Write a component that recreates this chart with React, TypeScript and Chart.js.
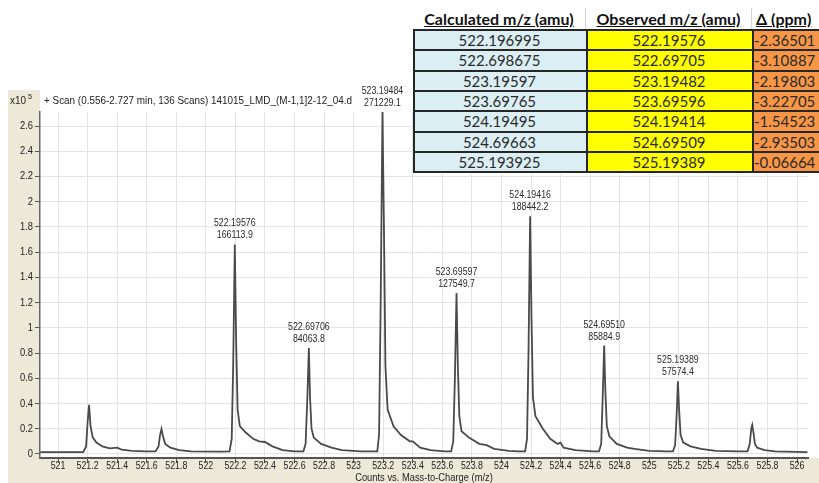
import React, { useEffect, useRef } from 'react';
import { Chart, registerables } from 'chart.js';
Chart.register(...registerables);

// Spectrum trace: m/z and intensity (x10^5 counts)
const traceMz = [
  520.88, 521.17, 521.19, 521.2, 521.21, 521.22, 521.235, 521.26, 521.3, 521.35, 521.4, 521.43, 521.5, 521.6,
  521.66, 521.68, 521.69, 521.7, 521.71, 521.725, 521.76, 521.82, 521.9, 522.1,
  522.16, 522.175, 522.185, 522.196, 522.205, 522.215, 522.23, 522.27, 522.32, 522.36, 522.4, 522.45, 522.52, 522.6,
  522.66, 522.675, 522.687, 522.697, 522.705, 522.715, 522.73, 522.78, 522.85, 522.92, 523.05,
  523.16, 523.172, 523.183, 523.195, 523.205, 523.215, 523.23, 523.27, 523.32, 523.38, 523.4, 523.45, 523.52, 523.62,
  523.66, 523.674, 523.685, 523.696, 523.705, 523.715, 523.73, 523.78, 523.85, 523.9, 523.95, 524.05, 524.12,
  524.16, 524.173, 524.183, 524.194, 524.203, 524.213, 524.23, 524.28, 524.33, 524.38, 524.4, 524.42, 524.5, 524.62,
  524.66, 524.675, 524.685, 524.695, 524.703, 524.713, 524.73, 524.78, 524.85, 524.9, 525.0, 525.12,
  525.16, 525.175, 525.185, 525.194, 525.202, 525.212, 525.23, 525.28, 525.35, 525.45, 525.6,
  525.665, 525.68, 525.69, 525.697, 525.705, 525.715, 525.73, 525.78, 525.85, 526.07,
];
const traceInt = [
  0.015, 0.015, 0.06, 0.25, 0.39, 0.22, 0.13, 0.09, 0.06, 0.045, 0.05, 0.035, 0.025, 0.02,
  0.02, 0.06, 0.15, 0.198, 0.14, 0.08, 0.05, 0.03, 0.02, 0.018,
  0.02, 0.12, 0.7, 1.661139, 0.9, 0.35, 0.22, 0.17, 0.12, 0.1, 0.095, 0.06, 0.03, 0.02,
  0.02, 0.08, 0.45, 0.840638, 0.45, 0.2, 0.13, 0.08, 0.05, 0.03, 0.02,
  0.02, 0.15, 1.2, 2.712291, 1.8, 0.7, 0.35, 0.22, 0.15, 0.1, 0.1, 0.05, 0.03, 0.02,
  0.02, 0.1, 0.6, 1.275497, 0.7, 0.3, 0.18, 0.13, 0.08, 0.07, 0.04, 0.025, 0.02,
  0.02, 0.12, 0.8, 1.884422, 1.1, 0.45, 0.3, 0.2, 0.12, 0.08, 0.09, 0.05, 0.03, 0.02,
  0.02, 0.08, 0.45, 0.858849, 0.5, 0.22, 0.14, 0.08, 0.05, 0.04, 0.025, 0.02,
  0.02, 0.07, 0.3, 0.575744, 0.35, 0.15, 0.09, 0.06, 0.04, 0.025, 0.02,
  0.02, 0.08, 0.2, 0.23, 0.17, 0.08, 0.05, 0.03, 0.02, 0.015,
];

const xTicks = [521, 521.2, 521.4, 521.6, 521.8, 522, 522.2, 522.4, 522.6, 522.8, 523, 523.2, 523.4, 523.6, 523.8, 524, 524.2, 524.4, 524.6, 524.8, 525, 525.2, 525.4, 525.6, 525.8, 526];
const yTicks = [0, 0.2, 0.4, 0.6, 0.8, 1, 1.2, 1.4, 1.6, 1.8, 2, 2.2, 2.4, 2.6];

const peakMz = ['522.19576', '522.69706', '523.19484', '523.69597', '524.19416', '524.69510', '525.19389'];
const peakCounts = ['166113.9', '84063.8', '271229.1', '127549.7', '188442.2', '85884.9', '57574.4'];

const tableCalc = ['522.196995', '522.698675', '523.19597', '523.69765', '524.19495', '524.69663', '525.193925'];
const tableObs = ['522.19576', '522.69705', '523.19482', '523.69596', '524.19414', '524.69509', '525.19389'];
const tableDelta = ['-2.36501', '-3.10887', '-2.19803', '-3.22705', '-1.54523', '-2.93503', '-0.06664'];

const FONT = "'Liberation Sans', Arial, sans-serif";

function condText(ctx: CanvasRenderingContext2D, t: string, x: number, y: number, align: CanvasTextAlign, sx: number) {
  ctx.save();
  ctx.translate(x, y);
  ctx.scale(sx, 1);
  ctx.textAlign = align;
  ctx.fillText(t, 0, 0);
  ctx.restore();
}

const decorPlugin = {
  id: 'decor',
  beforeDraw(chart: any) {
    const ctx = chart.ctx;
    ctx.save();
    ctx.fillStyle = '#ECE9D8';
    ctx.fillRect(8, 90, 811, 393);
    ctx.fillStyle = '#ffffff';
    ctx.fillRect(40, 90, 779, 368);
    ctx.restore();
  },
  afterDraw(chart: any) {
    const ctx: CanvasRenderingContext2D = chart.ctx;
    const xs = chart.scales.x;
    const ys = chart.scales.y;
    const ca = chart.chartArea;
    ctx.save();
    ctx.fillStyle = '#222';
    ctx.textBaseline = 'middle';
    ctx.font = `11px ${FONT}`;
    condText(ctx, 'x10', 10, 101, 'left', 0.9);
    ctx.font = `8px ${FONT}`;
    condText(ctx, '5', 28, 97, 'left', 0.9);
    ctx.font = `11px ${FONT}`;
    condText(ctx, '+ Scan (0.556-2.727 min, 136 Scans) 141015_LMD_(M-1,1]2-12_04.d', 44, 101, 'left', 0.9);
    condText(ctx, 'Counts vs. Mass-to-Charge (m/z)', (ca.left + ca.right) / 2, 478, 'center', 0.85);
    for (const v of xTicks) {
      condText(ctx, String(v), xs.getPixelForValue(v), 466, 'center', 0.8);
    }
    for (const v of yTicks) {
      condText(ctx, String(v), 33, ys.getPixelForValue(v), 'right', 0.85);
    }
    ctx.fillStyle = '#2a2a2a';
    ctx.font = `11px ${FONT}`;
    for (let i = 0; i < peakMz.length; i++) {
      const px = xs.getPixelForValue(parseFloat(peakMz[i]));
      const py = ys.getPixelForValue(parseFloat(peakCounts[i]) / 1e5);
      condText(ctx, peakMz[i], px, py - 21, 'center', 0.8);
      condText(ctx, peakCounts[i], px, py - 9, 'center', 0.8);
    }
    ctx.restore();
  },
};

function DataTable() {
  const cols = [
    { left: 0, width: 173, bg: '#DAEEF3', align: 'center' as const },
    { left: 173, width: 166, bg: '#FFFF00', align: 'center' as const },
    { left: 339, width: 90, bg: '#F79646', align: 'left' as const },
  ];
  const headers = ['Calculated m/z (amu)', 'Observed m/z (amu)', '\u0394 (ppm)'];
  const rows = tableCalc.map((c, i) => [c, tableObs[i], tableDelta[i]]);
  const headH = 22;
  const rowH = 20.3;
  const els: any[] = [];
  headers.forEach((h, j) => {
    els.push(
      <div key={'h' + j} style={{
        position: 'absolute', left: cols[j].left, top: 0, width: cols[j].width, height: headH,
        lineHeight: headH + 'px', textAlign: cols[j].align, paddingLeft: cols[j].align === 'left' ? 4 : 0,
        boxSizing: 'border-box', fontWeight: 700, fontSize: 16, color: '#111', textDecoration: 'underline',
        borderRight: '1px solid #d4d4d4', whiteSpace: 'nowrap', overflow: 'hidden',
      }}>{h}</div>
    );
  });
  rows.forEach((r, i) => {
    r.forEach((v, j) => {
      els.push(
        <div key={'c' + i + '_' + j} style={{
          position: 'absolute', left: cols[j].left, top: headH + i * rowH, width: cols[j].width, height: rowH,
          lineHeight: rowH + 'px', textAlign: cols[j].align, paddingLeft: cols[j].align === 'left' ? 2 : 0,
          boxSizing: 'border-box', background: cols[j].bg, fontSize: 15, color: '#2a2a2a', whiteSpace: 'nowrap',
        }}>{v}</div>
      );
    });
  });
  for (let i = 0; i <= rows.length; i++) {
    els.push(<div key={'hl' + i} style={{ position: 'absolute', left: 0, top: headH + i * rowH - 1, width: 430, height: 2, background: '#262626' }} />);
  }
  [0, 173, 339].forEach((x, k) => {
    els.push(<div key={'vl' + k} style={{ position: 'absolute', left: x, top: headH - 1, width: 2, height: rows.length * rowH + 2, background: '#262626' }} />);
  });
  return (
    <div style={{
      position: 'absolute', left: 413, top: 8, width: 406, height: headH + rows.length * rowH + 2,
      overflow: 'hidden', background: '#fff', fontFamily: 'Lato, "Open Sans", sans-serif',
    }}>{els}</div>
  );
}

export default function App() {
  const ref = useRef<HTMLCanvasElement>(null);
  useEffect(() => {
    if (!ref.current) return;
    const chart = new Chart(ref.current, {
      type: 'line',
      data: {
        datasets: [{
          data: traceMz.map((x, i) => ({ x, y: traceInt[i] })),
          borderColor: '#4a4a4a',
          borderWidth: 1.8,
          pointRadius: 0,
          tension: 0,
          fill: false,
        }],
      },
      options: {
        animation: false,
        responsive: false,
        devicePixelRatio: 1,
        layout: { padding: { left: 0, right: 11, top: 112, bottom: 0 } },
        plugins: { legend: { display: false }, tooltip: { enabled: false } },
        scales: {
          x: {
            type: 'linear',
            min: 520.878,
            max: 526.074,
            afterBuildTicks: (s: any) => { s.ticks = xTicks.map((v) => ({ value: v })); },
            afterFit: (s: any) => { s.height = 25; },
            ticks: { display: false, autoSkip: false, maxRotation: 0, minRotation: 0 },
            grid: { color: '#e4e4e4', tickColor: '#555', tickLength: 5, lineWidth: 1 },
            border: { color: '#555', width: 2 },
          },
          y: {
            type: 'linear',
            min: -0.032,
            max: 2.711,
            afterBuildTicks: (s: any) => { s.ticks = yTicks.map((v) => ({ value: v })); },
            afterFit: (s: any) => { s.width = 40; },
            ticks: { display: false },
            grid: { color: '#e4e4e4', tickColor: '#555', tickLength: 5, lineWidth: 1 },
            border: { color: '#666', width: 1.5 },
          },
        },
      },
      plugins: [decorPlugin],
    } as any);
    return () => chart.destroy();
  }, []);
  return (
    <div style={{ position: 'fixed', left: 0, top: 0, width: 819, height: 483, background: '#fff' }}>
      <canvas ref={ref} width={819} height={483} style={{ position: 'absolute', left: 0, top: 0, width: 819, height: 483 }} />
      <DataTable />
    </div>
  );
}
